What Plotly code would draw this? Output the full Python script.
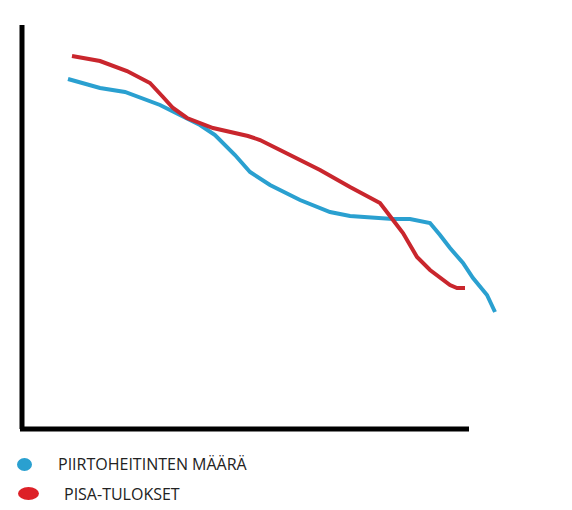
import plotly.graph_objects as go

# values (x: left->right, y: bottom->top, arbitrary units)
blue_x = [46, 78, 103, 138, 158, 178, 193, 213, 228, 248, 278, 308, 328, 371, 388, 408, 418, 428, 441, 451, 465, 473]
blue_y = [350, 341, 337, 324, 314, 304, 294, 274, 257, 244, 229, 217, 213, 210, 210, 206, 194, 181, 166, 151, 134, 117]

red_x = [50, 78, 105, 128, 141, 151, 165, 191, 226, 238, 258, 298, 328, 358, 371, 381, 395, 408, 428, 435, 443]
red_y = [373, 368, 358, 346, 332, 321, 311, 301, 293, 289, 279, 259, 242, 226, 209, 196, 172, 159, 144, 141, 141]

names = ["PIIRTOHEITINTEN MÄÄRÄ", "PISA-TULOKSET"]
colors = ["#2aa0d0", "#c9262d"]

W, H = 572, 510
OFF = 8  # page body margin
L, T = 22 - OFF, 25 - OFF
pw, ph = 500, 404
R, B = W - L - pw, H - T - ph


def px(x):
    return (x - OFF - L) / pw


def py(y):
    return (H - B - (y - OFF)) / ph


fig = go.Figure()
fig.add_trace(go.Scatter(x=blue_x, y=blue_y, mode="lines", name=names[0],
                         line=dict(color=colors[0], width=4)))
fig.add_trace(go.Scatter(x=red_x, y=red_y, mode="lines", name=names[1],
                         line=dict(color=colors[1], width=4)))

# hand-drawn axes
fig.add_shape(type="line", xref="paper", yref="paper",
              x0=px(22), x1=px(22), y0=py(25), y1=py(429),
              line=dict(color="black", width=5))
fig.add_shape(type="line", xref="paper", yref="paper",
              x0=px(20), x1=px(469), y0=py(429), y1=py(429),
              line=dict(color="black", width=5))

# legend blobs + labels
fig.add_shape(type="circle", xref="paper", yref="paper",
              x0=px(17), x1=px(32), y0=py(458), y1=py(471),
              fillcolor=colors[0], line=dict(width=0))
fig.add_shape(type="circle", xref="paper", yref="paper",
              x0=px(18), x1=px(39), y0=py(487), y1=py(500),
              fillcolor="#dd2027", line=dict(width=0))
fig.add_annotation(xref="paper", yref="paper", x=px(56), y=py(464),
                   text=names[0], showarrow=False, xanchor="left", yanchor="middle",
                   font=dict(family="Open Sans", size=16, color="#222"))
fig.add_annotation(xref="paper", yref="paper", x=px(62), y=py(494),
                   text=names[1], showarrow=False, xanchor="left", yanchor="middle",
                   font=dict(family="Open Sans", size=16, color="#222"))

fig.update_layout(
    width=W, height=H,
    margin=dict(l=L, r=R, t=T, b=B),
    plot_bgcolor="white", paper_bgcolor="white",
    showlegend=False,
    xaxis=dict(range=[0, pw], visible=False),
    yaxis=dict(range=[0, ph], visible=False),
)
fig.write_html("out.html")
